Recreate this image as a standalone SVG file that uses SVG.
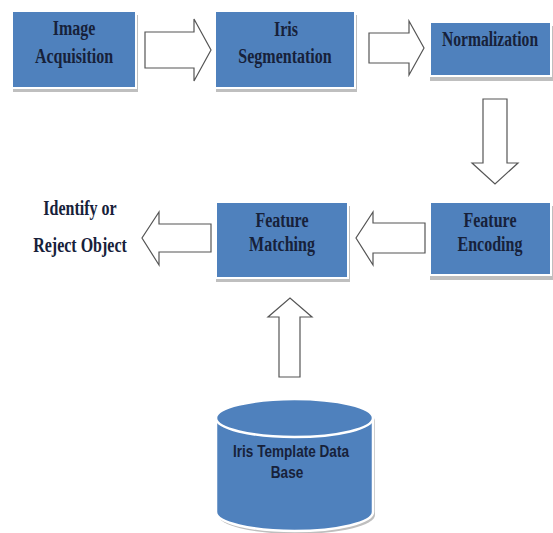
<svg xmlns="http://www.w3.org/2000/svg" width="553" height="533" viewBox="0 0 553 533">
<style>
.shadow{fill:#bfbfbf;}
.box{fill:#4f81bd;stroke:#ffffff;stroke-width:2;}
.t{font-family:"Liberation Serif","Times New Roman",serif;font-weight:bold;font-size:20px;fill:#17213a;text-anchor:middle;}
.ts{font-family:"Liberation Sans",Arial,sans-serif;font-weight:bold;font-size:17px;fill:#17213a;text-anchor:middle;}
.arrow{fill:#ffffff;stroke:#555555;stroke-width:1.2;stroke-linejoin:miter;}
</style>
<rect width="553" height="533" fill="#ffffff"/>
<g id="connectors">
<polygon class="arrow" points="145,32 194,32 194,19 211,50 194,81 194,68 145,68"/>
<polygon class="arrow" points="369,33 409,33 409,21 424,48 409,75 409,63 369,63"/>
<polygon class="arrow" points="483,99 507,99 507,163 518,163 495,184 472,163 483,163"/>
<polygon class="arrow" points="425,223 373,223 373,212 356,238 373,265 373,253 425,253"/>
<polygon class="arrow" points="211,224 159,224 159,212 142,238 159,265 159,252 211,252"/>
<polygon class="arrow" points="279,377 279,317 268,317 290,298 312,317 300,317 300,377"/>
</g>
<g id="image-acquisition">
<rect class="shadow" x="13" y="15" width="125" height="77"/>
<rect class="box" x="12" y="11" width="124" height="77"/>
<text class="t" transform="matrix(0.8 0 0 1 74 35)">Image</text>
<text class="t" transform="matrix(0.8 0 0 1 74 63)">Acquisition</text>
</g>
<g id="iris-segmentation">
<rect class="shadow" x="216" y="15" width="141" height="77"/>
<rect class="box" x="215" y="11" width="140" height="77"/>
<text class="t" transform="matrix(0.8 0 0 1 286 36)">Iris</text>
<text class="t" transform="matrix(0.8 0 0 1 285 63)">Segmentation</text>
</g>
<g id="normalization">
<rect class="shadow" x="430" y="26" width="123" height="55"/>
<rect class="box" x="430" y="22" width="121" height="54"/>
<text class="t" transform="matrix(0.78 0 0 1 490 46)">Normalization</text>
</g>
<g id="feature-encoding">
<rect class="shadow" x="430" y="206" width="123" height="74"/>
<rect class="box" x="430" y="202" width="121" height="73"/>
<text class="t" transform="matrix(0.8 0 0 1 490 227)">Feature</text>
<text class="t" transform="matrix(0.8 0 0 1 490 251)">Encoding</text>
</g>
<g id="feature-matching">
<rect class="shadow" x="216" y="206" width="134" height="76"/>
<rect class="box" x="216" y="202" width="132" height="76"/>
<text class="t" transform="matrix(0.8 0 0 1 282 227)">Feature</text>
<text class="t" transform="matrix(0.8 0 0 1 282 251)">Matching</text>
</g>
<g id="identify-or-reject">
<text class="t" transform="matrix(0.8 0 0 1 80 215)">Identify or</text>
<text class="t" transform="matrix(0.8 0 0 1 80 252)">Reject Object</text>
</g>
<g id="iris-template-database">
<path d="M218,421 A78.5,19 0 0 1 375,421 L375,515 A78.5,19 0 0 1 218,515 Z" fill="#bfbfbf"/>
<path d="M216,418 L216,512 A78.5,19 0 0 0 373,512 L373,418" fill="#4f81bd" stroke="#ffffff" stroke-width="2.5"/>
<ellipse cx="294.5" cy="418" rx="78.5" ry="19" fill="#4f81bd" stroke="#ffffff" stroke-width="2.5"/>
<text class="ts" transform="matrix(0.8 0 0 1 291 457)">Iris Template Data</text>
<text class="ts" transform="matrix(0.8 0 0 1 287 478)">Base</text>
</g>
</svg>
